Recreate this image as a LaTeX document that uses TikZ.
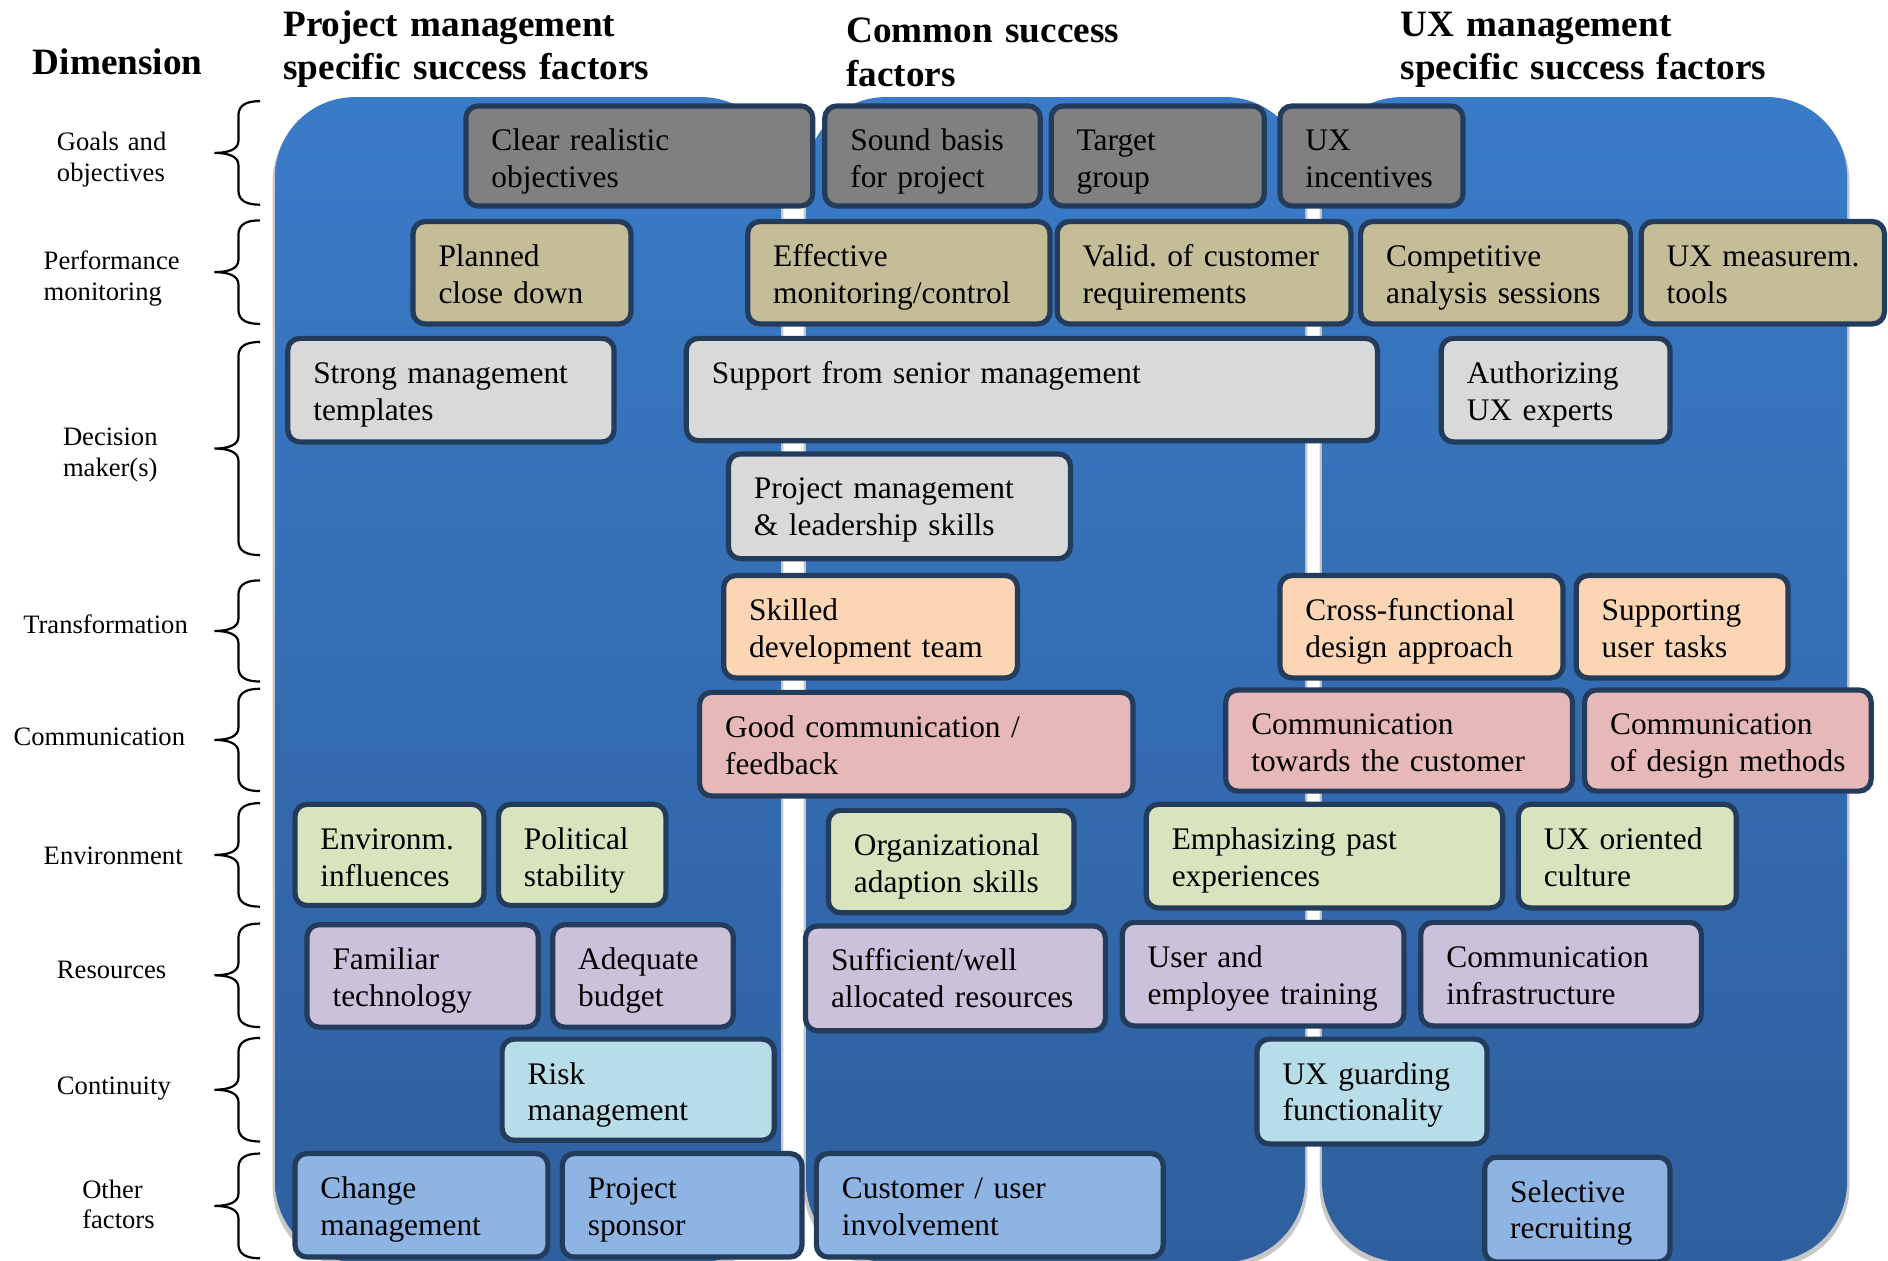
\documentclass[tikz,border=0pt]{standalone}
\usepackage{fontspec}
\setmainfont{Liberation Serif}
\usetikzlibrary{calc,fit}
\frenchspacing

% background panel gradient and box colours
\definecolor{bgtop}{RGB}{58,123,200}
\definecolor{bgbot}{RGB}{47,95,158}
\definecolor{edgeblue}{RGB}{36,60,92}
\definecolor{goalfill}{RGB}{128,128,128}
\definecolor{perffill}{RGB}{196,189,151}
\definecolor{decfill}{RGB}{217,217,217}
\definecolor{trfill}{RGB}{252,213,181}
\definecolor{comfill}{RGB}{230,185,184}
\definecolor{envfill}{RGB}{215,228,189}
\definecolor{resfill}{RGB}{204,193,218}
\definecolor{contfill}{RGB}{183,222,232}
\definecolor{othfill}{RGB}{142,180,227}

\tikzset{
  factor/.style={draw=edgeblue, line width=2.6pt, rounded corners=6pt, inner sep=0pt},
  ftext/.style={anchor=base west, inner sep=0pt, align=left,
                font=\fontsize{15.7}{18.4}\selectfont},
  dimlabel/.style={anchor=base west, inner sep=0pt, text width=95pt, align=left,
                   font=\fontsize{13.3}{15.3}\selectfont},
  heading/.style={anchor=base west, inner sep=0pt, align=left,
                  font=\bfseries\fontsize{18.6}{21.7}\selectfont},
  panel/.style={rounded corners=40pt, top color=bgtop, bottom color=bgbot},
  panelshadow/.style={rounded corners=40pt, fill=black!22},
  bracket/.style={line width=1.1pt, black},
}

% a factor box: name, x1, y1, x2, y2, fill, text
\newcommand\factorbox[7]{%
  \pgfmathsetmacro\fbw{(#4-#2-20)*0.60204}%
  \node[factor, fill=#6, fit={(#2+2,#3+2) (#4-2,#5-2)}] (#1) {};
  \node[ftext, text width=\fbw pt] (#1-t) at ($(#1.north west)+(23,39.5)$) {#7};}

% a curly bracket in front of a dimension: top, bottom
\newcommand\dimbrace[2]{%
  \pgfmathsetmacro\bm{(#1+#2)/2}%
  \draw[bracket] (216,#1) .. controls (205,#1) and (198,#1+3) .. (198,#1+12)
    -- (198,\bm-10) .. controls (198,\bm-3) and (190,\bm) .. (178,\bm)
    .. controls (190,\bm) and (198,\bm+3) .. (198,\bm+10)
    -- (198,#2-12) .. controls (198,#2-3) and (205,#2) .. (216,#2);}

\begin{document}
\begin{tikzpicture}[x=0.60204pt, y=-0.60204pt]
\useasboundingbox (0,0) rectangle (1568,1047);

% three column panels
\path[panelshadow] (226.4,84.6) rectangle (650.6,1052);
\path[panelshadow] (667.4,84.6) rectangle (1085.8,1052);
\path[panelshadow] (1095.9,84.6) rectangle (1536,1052);
\path[panel] (228.4,80.6) rectangle (648.6,1048);
\path[panel] (669.4,80.6) rectangle (1083.8,1048);
\path[panel] (1097.9,80.6) rectangle (1534,1048);

% column headings
\node[heading, text width=95pt] (hdim) at (27,62) {Dimension};
\node[heading, text width=220pt] (hpm) at (235,30) {Project management\\specific success factors};
\node[heading, text width=150pt] (hcom) at (702.6,35.4) {Common success\\factors};
\node[heading, text width=220pt] (hux) at (1163,30) {UX management\\specific success factors};

% dimension labels
\node[dimlabel] (dgoal) at (47,125) {Goals and\\objectives};
\node[dimlabel] (dperf) at (36,224) {Performance\\monitoring};
\node[dimlabel] (ddec) at (52,370) {Decision\\maker(s)};
\node[dimlabel] (dtr) at (19,526.5) {Transformation};
\node[dimlabel] (dcom) at (11,619.5) {Communication};
\node[dimlabel] (denv) at (36,718) {Environment};
\node[dimlabel] (dres) at (47,813) {Resources};
\node[dimlabel] (dcont) at (47,909) {Continuity};
\node[dimlabel] (doth) at (68,995) {Other\\factors};

% brackets
\dimbrace{84}{170}
\dimbrace{183}{269}
\dimbrace{284}{461}
\dimbrace{482}{566}
\dimbrace{572}{657}
\dimbrace{667}{753}
\dimbrace{767}{853}
\dimbrace{862}{948}
\dimbrace{958}{1045}

% goals and objectives
\factorbox{goal1}{385}{86}{677}{173}{goalfill}{Clear realistic\\objectives}
\factorbox{goal2}{683}{86}{866}{173}{goalfill}{Sound basis\\for project}
\factorbox{goal3}{871}{86}{1052}{173}{goalfill}{Target\\group}
\factorbox{goal4}{1061}{86}{1217}{173}{goalfill}{UX\\incentives}

% performance monitoring
\factorbox{perf1}{341}{182}{526}{271}{perffill}{Planned\\close down}
\factorbox{perf2}{619}{182}{874}{271}{perffill}{Effective\\monitoring/control}
\factorbox{perf3}{876}{182}{1124}{271}{perffill}{Valid. of customer\\requirements}
\factorbox{perf4}{1128}{182}{1356}{271}{perffill}{Competitive\\analysis sessions}
\factorbox{perf5}{1361}{182}{1567}{271}{perffill}{UX measurem.\\tools}

% decision makers
\factorbox{dec1}{237}{279}{512}{369}{decfill}{Strong management\\templates}
\factorbox{dec2}{568}{279}{1146}{368}{decfill}{Support from senior management}
\factorbox{dec3}{1195}{279}{1389}{369}{decfill}{Authorizing\\UX experts}
\factorbox{dec4}{603}{375}{891}{466}{decfill}{Project management\\\& leadership skills}

% transformation
\factorbox{tr1}{599}{476}{847}{565}{trfill}{Skilled\\development team}
\factorbox{tr2}{1061}{476}{1300}{565}{trfill}{Cross-functional\\design approach}
\factorbox{tr3}{1307}{476}{1487}{565}{trfill}{Supporting\\user tasks}

% communication
\factorbox{com1}{579}{573}{943}{663}{comfill}{Good communication /\\feedback}
\factorbox{com2}{1016}{571}{1308}{659}{comfill}{Communication\\towards the customer}
\factorbox{com3}{1314}{571}{1556}{659}{comfill}{Communication\\of design methods}

% environment
\factorbox{env1}{243}{666}{404}{754}{envfill}{Environm.\\influences}
\factorbox{env2}{412}{666}{555}{754}{envfill}{Political\\stability}
\factorbox{env3}{686}{671}{894}{760}{envfill}{Organizational\\adaption skills}
\factorbox{env4}{950}{666}{1250}{756}{envfill}{Emphasizing past\\experiences}
\factorbox{env5}{1259}{666}{1444}{756}{envfill}{UX oriented\\culture}

% resources
\factorbox{res1}{253}{766}{449}{855}{resfill}{Familiar\\technology}
\factorbox{res2}{457}{766}{611}{855}{resfill}{Adequate\\budget}
\factorbox{res3}{667}{767}{920}{858}{resfill}{Sufficient/well\\allocated resources}
\factorbox{res4}{930}{764}{1168}{854}{resfill}{User and\\employee training}
\factorbox{res5}{1178}{764}{1415}{854}{resfill}{Communication\\infrastructure}

% continuity
\factorbox{con1}{415}{861}{645}{949}{contfill}{Risk\\management}
\factorbox{con2}{1042}{861}{1237}{952}{contfill}{UX guarding\\functionality}

% other factors
\factorbox{oth1}{243}{956}{457}{1046}{othfill}{Change\\management}
\factorbox{oth2}{465}{956}{668}{1046}{othfill}{Project\\sponsor}
\factorbox{oth3}{676}{956}{968}{1046}{othfill}{Customer / user\\involvement}
\factorbox{oth4}{1231}{959}{1389}{1050}{othfill}{Selective\\recruiting}
\end{tikzpicture}
\end{document}
